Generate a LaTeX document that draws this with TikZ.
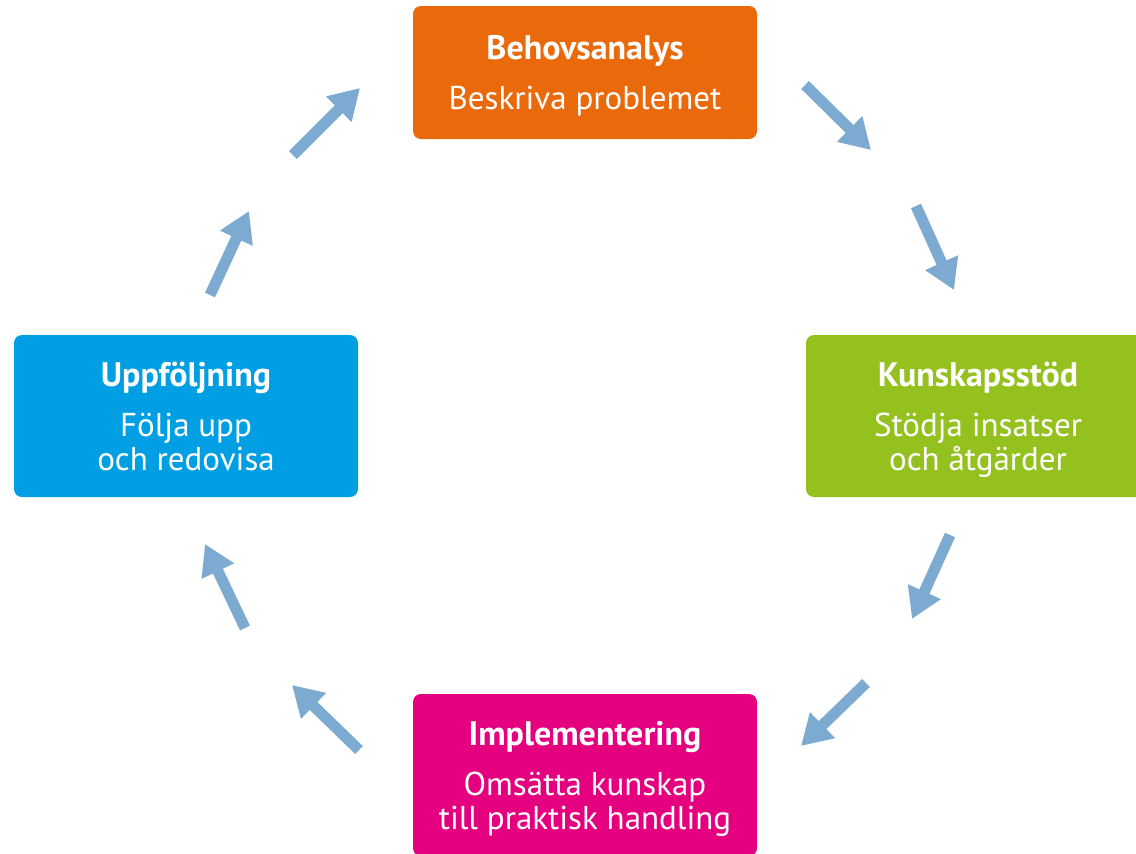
\documentclass[tikz,border=0pt]{standalone}
\usepackage{fontspec}
\setmainfont{PT Sans}
\usepackage{tikz}
\usetikzlibrary{arrows.meta}
\definecolor{behovcol}{RGB}{234,105,11}
\definecolor{kunskapcol}{RGB}{149,193,31}
\definecolor{implcol}{RGB}{228,0,126}
\definecolor{uppfcol}{RGB}{0,159,227}
\definecolor{flowcol}{RGB}{125,170,208}
\newcommand{\stagefont}{\fontsize{16.5}{17}\selectfont\lineskiplimit=-5pt\relax}
\newcommand{\stagetitle}[1]{{\fontsize{17}{17}\selectfont\bfseries #1}}
\tikzset{
  stage/.style={rectangle,rounded corners=4pt,text=white,align=center,
    minimum width=172pt,text depth=0pt,font=\stagefont},
  flow/.style={flowcol,line width=5.5pt,-{Triangle[length=15pt,width=17pt]}}
}
\begin{document}
\begin{tikzpicture}[x=0.5pt,y=-0.5pt]
\useasboundingbox (0,0) rectangle (1136,853);
\clip (0,0) rectangle (1136,853);
% the four stages
\node[stage,fill=behovcol,minimum height=66.5pt] (behov) at (585,72.5)
  {\stagetitle{Behovsanalys}\\[8pt] Beskriva problemet};
\node[stage,fill=kunskapcol,minimum height=81pt] (kunskap) at (978,416)
  {\stagetitle{Kunskapsstöd}\\[8pt] Stödja insatser\\ och åtgärder};
\node[stage,fill=implcol,minimum height=81pt] (impl) at (585,775)
  {\stagetitle{Implementering}\\[8pt] Omsätta kunskap\\ till praktisk handling};
\node[stage,fill=uppfcol,minimum height=81pt] (uppf) at (186,416)
  {\stagetitle{Uppföljning}\\[8pt] Följa upp\\ och redovisa};
% arrow ends
\coordinate (a1s) at (805,85);  \coordinate (a1e) at (871,150);
\coordinate (a2s) at (916,206); \coordinate (a2e) at (954,290);
\coordinate (a3s) at (950,535); \coordinate (a3e) at (912,619);
\coordinate (a4s) at (866,683); \coordinate (a4e) at (801,746);
\coordinate (a5s) at (359,750); \coordinate (a5e) at (292,685);
\coordinate (a6s) at (245,628); \coordinate (a6e) at (205,544);
\coordinate (a7s) at (210,295); \coordinate (a7e) at (249,211);
\coordinate (a8s) at (293,155); \coordinate (a8e) at (360,88);
\draw[flow] (a1s) -- (a1e);
\draw[flow] (a2s) -- (a2e);
\draw[flow] (a3s) -- (a3e);
\draw[flow] (a4s) -- (a4e);
\draw[flow] (a5s) -- (a5e);
\draw[flow] (a6s) -- (a6e);
\draw[flow] (a7s) -- (a7e);
\draw[flow] (a8s) -- (a8e);
\end{tikzpicture}
\end{document}
